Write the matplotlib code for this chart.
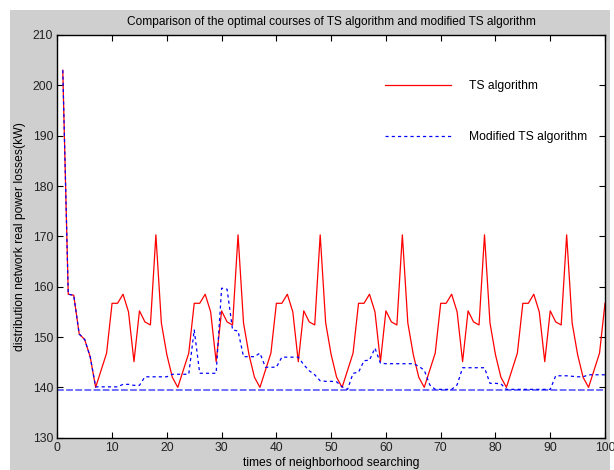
import numpy as np
import matplotlib
matplotlib.use("Agg")
import matplotlib.pyplot as plt
from matplotlib.patches import Rectangle

#%% Data

iterations = list(range(1, 101))

ts_losses = [
    203.0, 158.5, 158.3, 150.6, 149.5, 146.1,
    140.0, 143.4, 146.8, 156.7, 156.7, 158.5, 155.0, 145.1, 155.2, 153.0, 152.4, 170.3, 152.8, 146.5, 142.0,
    140.0, 143.4, 146.8, 156.7, 156.7, 158.5, 155.0, 145.1, 155.2, 153.0, 152.4, 170.3, 152.8, 146.5, 142.0,
    140.0, 143.4, 146.8, 156.7, 156.7, 158.5, 155.0, 145.1, 155.2, 153.0, 152.4, 170.3, 152.8, 146.5, 142.0,
    140.0, 143.4, 146.8, 156.7, 156.7, 158.5, 155.0, 145.1, 155.2, 153.0, 152.4, 170.3, 152.8, 146.5, 142.0,
    140.0, 143.4, 146.8, 156.7, 156.7, 158.5, 155.0, 145.1, 155.2, 153.0, 152.4, 170.3, 152.8, 146.5, 142.0,
    140.0, 143.4, 146.8, 156.7, 156.7, 158.5, 155.0, 145.1, 155.2, 153.0, 152.4, 170.3, 152.8, 146.5, 142.0,
    140.0, 143.4, 146.8, 156.7,
]

modified_losses = [
    203.0, 158.5, 158.3, 150.6, 149.5, 146.1,
    140.1, 140.1, 140.1, 140.1, 140.1, 140.6, 140.6, 140.4, 140.4, 142.1,   # 7-16
    142.1, 142.1, 142.1, 142.1, 142.6, 142.6, 142.6, 142.6, 151.4, 142.8,   # 17-26
    142.8, 142.8, 142.8, 159.7, 159.5, 151.4, 151.2, 146.1, 146.1, 146.1,   # 27-36
    146.8, 144.0, 144.0, 144.0, 146.0, 146.0, 146.0, 146.0, 144.5, 143.3,   # 37-46
    142.5, 141.3, 141.2, 141.2, 141.1, 140.1, 139.6, 142.8, 143.0, 145.3,   # 47-56
    145.4, 147.8, 144.8, 144.7, 144.7, 144.7, 144.7, 144.7, 144.7, 144.2,   # 57-66
    143.4, 140.5, 139.6, 139.6, 139.6, 139.6, 140.5, 143.9, 143.9, 143.9,   # 67-76
    143.9, 143.9, 140.8, 140.8, 140.7, 139.6, 139.6, 139.6, 139.6, 139.6,   # 77-86
    139.6, 139.6, 139.6, 139.6, 142.3, 142.3, 142.3, 142.2, 142.1, 142.1,   # 87-96
    142.5, 142.5, 142.5, 142.5,                                             # 97-100
]

optimum_x = [0, 100]
optimum_losses = [139.4, 139.4]

#%% Plot

plt.rcParams['font.family'] = ['Liberation Sans', 'DejaVu Sans']

fig = plt.figure(figsize=(6.14, 4.70), dpi=100, facecolor='white')
# grey MATLAB-style figure background with a thin white margin top/left/right
fig.patches.append(Rectangle((10 / 614, 0), 600 / 614, 460 / 470, transform=fig.transFigure,
                             facecolor='#cfcfcf', edgecolor='none', zorder=-10))

ax = fig.add_axes([57.3 / 614, (470 - 437.7) / 470, (605 - 57.3) / 614, (437.7 - 35) / 470])
ax.set_facecolor('white')

ax.plot(optimum_x, optimum_losses, color='#4040ff', lw=1.4, ls=(0, (3.5, 1.2)), alpha=0.75)
ts_line, = ax.plot(iterations, ts_losses, color='red', lw=0.9)
mod_line, = ax.plot(iterations, modified_losses, color='blue', lw=0.9, ls=(0, (2.5, 2.5)))

ax.set_xlim(0, 100)
ax.set_ylim(130, 210)
ax.set_xticks(np.arange(0, 101, 10))
ax.set_yticks(np.arange(130, 211, 10))
ax.tick_params(direction='in', length=4, width=0.8, top=True, right=True, labelsize=8.7,
               labelcolor='#222222', pad=3)
for s in ax.spines.values():
    s.set_linewidth(1.0)

ax.set_title('Comparison of the optimal courses of TS algorithm and modified TS algorithm',
             fontsize=8.6, pad=7)
ax.set_xlabel('times of neighborhood searching', fontsize=8.7, labelpad=2)
ax.set_ylabel('distribution network real power losses(kW)', fontsize=8.7, labelpad=5)

ax.legend([ts_line, mod_line], ['TS algorithm', 'Modified TS algorithm'],
          loc='center left', bbox_to_anchor=(0.598, 0.81), frameon=False, fontsize=8.7,
          handlelength=5.5, handletextpad=1.45, labelspacing=3.2, borderpad=0, borderaxespad=0)

plt.savefig('out.png', dpi=100, facecolor=fig.get_facecolor())
